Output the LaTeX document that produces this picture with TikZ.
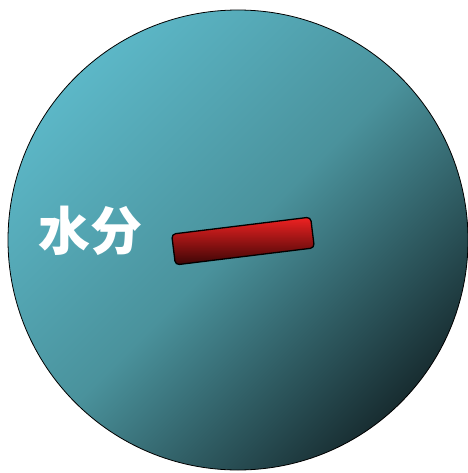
\documentclass[tikz,border=0pt]{standalone}
\usepackage{fontspec}
\newfontfamily\cjk{Noto Sans CJK SC}
\begin{document}
\begin{tikzpicture}[x=1pt,y=-1pt,
  ball/.style={draw=black,line width=0.8pt,top color=ballA,bottom color=ballC,middle color=ballB,shading angle=45},
  bar/.style={draw=black,line width=1.3pt,rounded corners=4pt,top color=barA,middle color=barM,bottom color=barB},
  lbl/.style={text=white,font=\cjk\bfseries\fontsize{52}{56}\selectfont,inner sep=0pt}]
\definecolor{ballA}{HTML}{5CB7C7}
\definecolor{ballB}{HTML}{4A929C}
\definecolor{ballC}{HTML}{182D31}
\definecolor{barA}{HTML}{F02222}
\definecolor{barM}{HTML}{D01C1C}
\definecolor{barB}{HTML}{3A0505}
\useasboundingbox (0,0) rectangle (467,473);
\path[ball] (238,240) circle[radius=230];
\node[lbl] (t) at (90,231) {水分};
\begin{scope}[shift={(243,241)},rotate=7]
\path[bar] (-70,-15.5) rectangle (70,15.5);
\end{scope}
\end{tikzpicture}
\end{document}
